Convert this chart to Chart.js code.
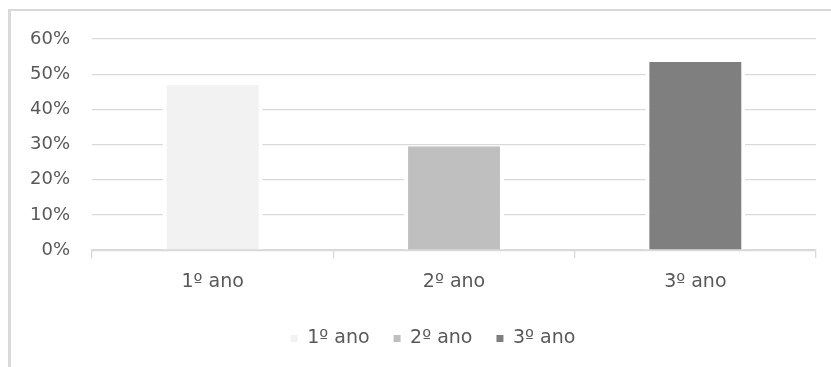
<!DOCTYPE html>
<html>
<head>
<meta charset="utf-8">
<script src="https://cdn.jsdelivr.net/npm/chart.js@4"></script>
<style>
  html, body { margin: 0; padding: 0; background: #fff; overflow: hidden; }
  #frame { position: absolute; left: 8px; top: 9px; width: 900px; height: 420px;
           border-top: 2px solid #d9d9d9; border-left: 3px solid #d9d9d9; }
  #wrap { position: absolute; left: 0; top: 0; width: 831px; height: 367px; }
</style>
</head>
<body>
<div id="frame"></div>
<div id="wrap"><canvas id="grafico"></canvas></div>
<script>
// dados
const categorias = ['1º ano', '2º ano', '3º ano'];
const valores    = [0.47, 0.295, 0.535];
const cores      = ['#f2f2f2', '#bfbfbf', '#7f7f7f'];

const texto = '#595959';
const grade = '#d9d9d9';

// a legenda fica centrada sob a área do gráfico, não sob o canvas
const moverLegenda = {
  id: 'moverLegenda',
  afterLayout(chart) {
    const lg = chart.legend;
    lg.left += 21;
    lg.right += 21;
  }
};

document.addEventListener('DOMContentLoaded', () => {
  const ctx = document.getElementById('grafico').getContext('2d');

  const datasets = categorias.map((nome, i) => ({
    label: nome,
    data: categorias.map((_, j) => (j === i ? valores[i] : null)),
    backgroundColor: cores[i],
    borderColor: '#ffffff',
    borderWidth: { left: 4, right: 4, top: 0, bottom: 0 },
    borderSkipped: false,
    grouped: false,
    barPercentage: 0.414,
    categoryPercentage: 1
  }));

  new Chart(ctx, {
    type: 'bar',
    data: { labels: categorias, datasets },
    plugins: [moverLegenda],
    options: {
      responsive: true,
      maintainAspectRatio: false,
      animation: false,
      layout: { padding: { left: 8, right: 15, top: 39, bottom: 9 } },
      scales: {
        y: {
          min: 0,
          max: 0.6,
          ticks: {
            stepSize: 0.1,
            color: texto,
            padding: 22,
            font: { family: 'DejaVu Sans', size: 18 },
            callback: v => Math.round(v * 100) + '%'
          },
          grid: { color: grade, lineWidth: 1.3, drawTicks: false },
          border: { display: false }
        },
        x: {
          offset: true,
          ticks: {
            color: texto,
            padding: 12,
            font: { family: 'DejaVu Sans', size: 19 }
          },
          grid: {
            offset: true,
            drawOnChartArea: false,
            drawTicks: true,
            tickLength: 8,
            color: grade,
            lineWidth: 1.3
          },
          border: { color: grade, width: 1.5 }
        }
      },
      plugins: {
        legend: {
          position: 'bottom',
          labels: {
            color: texto,
            boxWidth: 7,
            boxHeight: 7,
            padding: 24,
            font: { family: 'DejaVu Sans', size: 19 },
            generateLabels: chart =>
              Chart.defaults.plugins.legend.labels.generateLabels(chart).map(it => ({
                ...it, lineWidth: 0, strokeStyle: 'rgba(0,0,0,0)'
              }))
          }
        },
        tooltip: { enabled: false }
      }
    }
  });
});
</script>
</body>
</html>
